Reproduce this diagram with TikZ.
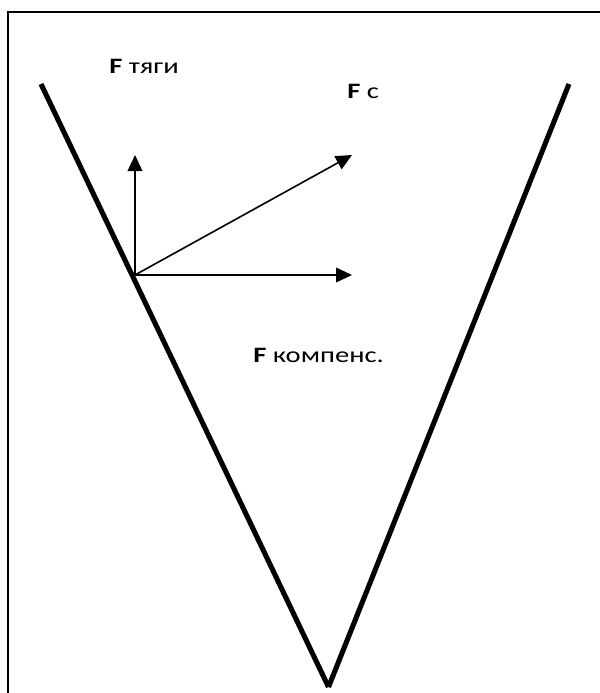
\documentclass[tikz,border=0pt]{standalone}
\usepackage{fontspec}
\setmainfont{Carlito}
\newfontfamily\widefont[FakeStretch=1.3]{Carlito}
\usetikzlibrary{arrows.meta}
\tikzset{
  frame/.style={line width=1.5pt},
  vline/.style={line width=3.8pt, line cap=butt},
  force/.style={line width=1.2pt, -{Triangle[length=12pt,width=11pt]}},
  lbl/.style={anchor=base west, inner sep=0pt, font=\widefont\fontsize{16.5}{20}\selectfont}
}
\begin{document}
\begin{tikzpicture}[x=0.75pt,y=-0.75pt]
\useasboundingbox (0,0) rectangle (600,693);
% frame (only top and left edges visible)
\coordinate (fr1) at (600,12);
\coordinate (fr2) at (8,12);
\coordinate (fr3) at (8,693);
\draw[frame] (fr1) -- (fr2) -- (fr3);
% V walls
\coordinate (L) at (41,84);
\coordinate (R) at (569,84);
\coordinate (B) at (328.5,687);
\draw[vline] (L) -- (B);
\draw[vline] (R) -- (B);
% forces
\coordinate (O) at (135,275);
\coordinate (Tup) at (135,155);
\coordinate (Tdiag) at (352,155);
\coordinate (Thor) at (352,275);
\draw[force] (O) -- (Tup);
\draw[force] (O) -- (Tdiag);
\draw[force] (O) -- (Thor);
% labels
\node[lbl] (ltyagi) at (109,73) {\textbf{F} тяги};
\node[lbl] (lc) at (347,98) {\textbf{F} с};
\node[lbl] (lkomp) at (253,362) {\textbf{F} компенс.};
\end{tikzpicture}
\end{document}
